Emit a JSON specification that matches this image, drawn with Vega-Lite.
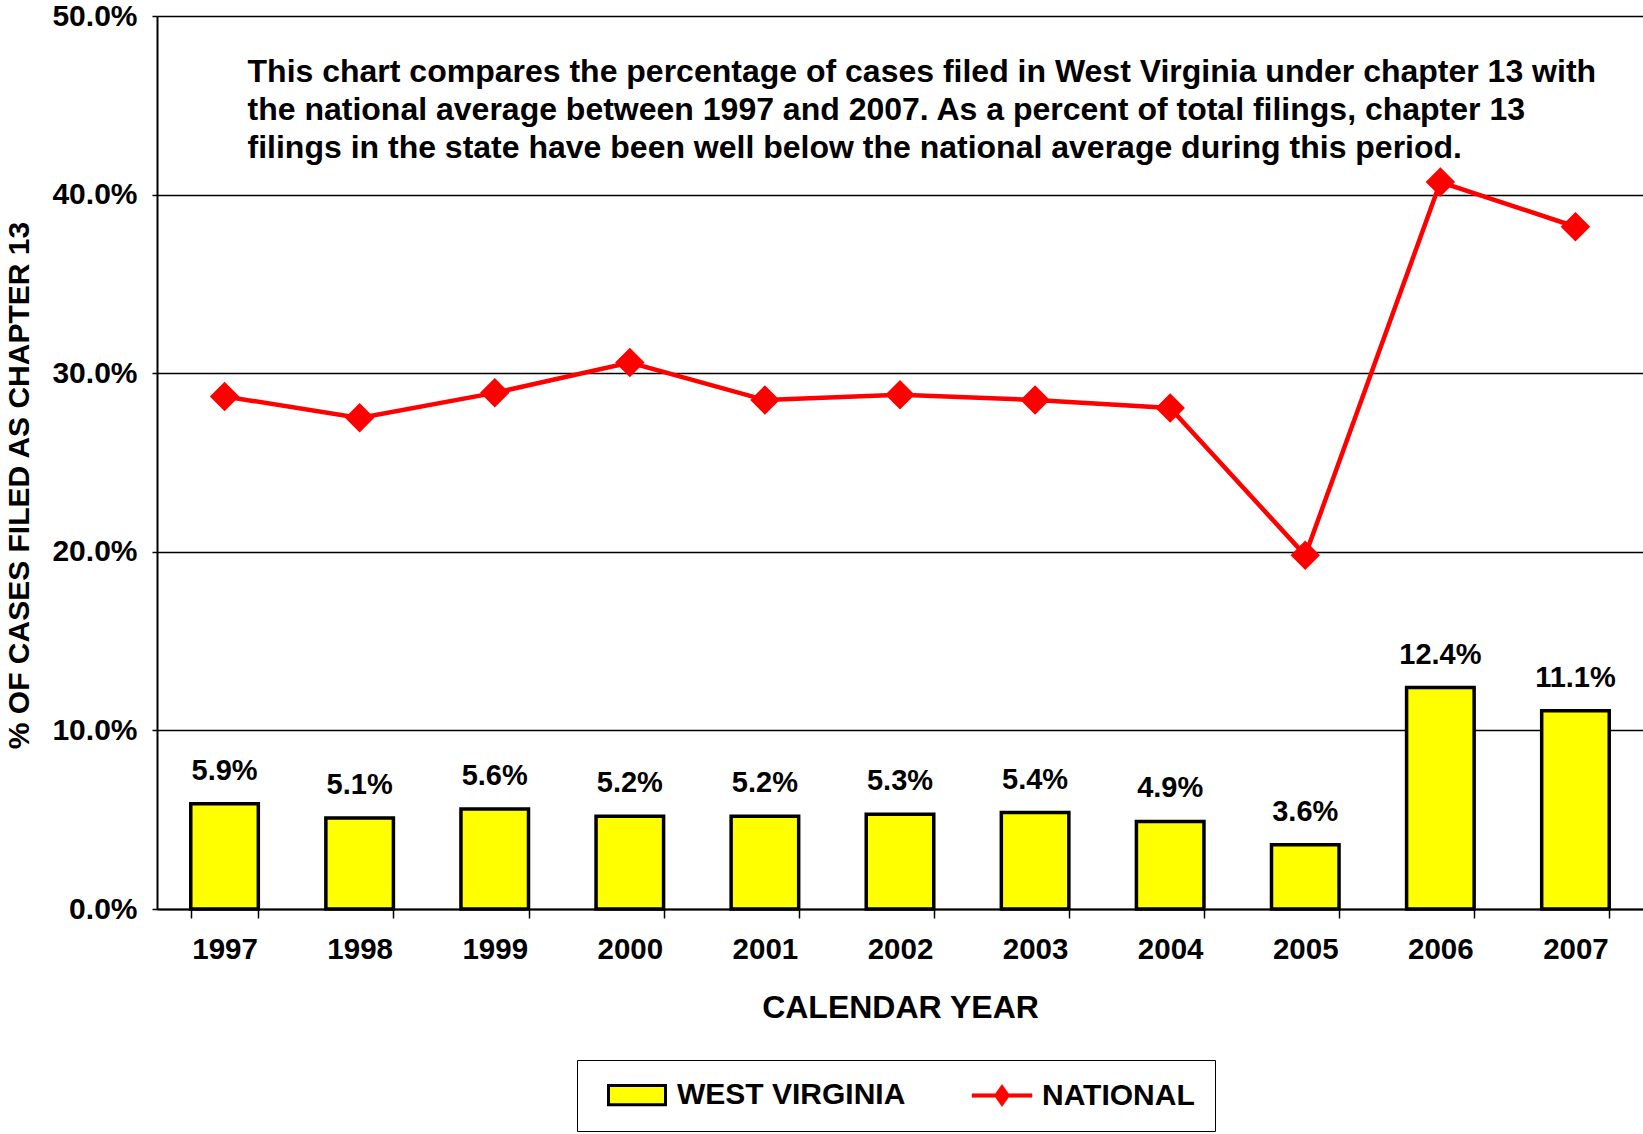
{
  "$schema": "https://vega.github.io/schema/vega-lite/v6.json",
  "width": 1486,
  "height": 893,
  "autosize": {"type": "none"},
  "padding": {"left": 157, "top": 16, "right": 0, "bottom": 225},
  "background": "white",
  "config": {
    "view": {"stroke": null},
    "font": "Liberation Sans",
    "text": {"font": "Liberation Sans"}
  },
  "data": {
    "values": [
      {"year": "1997", "series": "WEST VIRGINIA", "value": 0.059},
      {"year": "1998", "series": "WEST VIRGINIA", "value": 0.051},
      {"year": "1999", "series": "WEST VIRGINIA", "value": 0.056},
      {"year": "2000", "series": "WEST VIRGINIA", "value": 0.052},
      {"year": "2001", "series": "WEST VIRGINIA", "value": 0.052},
      {"year": "2002", "series": "WEST VIRGINIA", "value": 0.053},
      {"year": "2003", "series": "WEST VIRGINIA", "value": 0.054},
      {"year": "2004", "series": "WEST VIRGINIA", "value": 0.049},
      {"year": "2005", "series": "WEST VIRGINIA", "value": 0.036},
      {"year": "2006", "series": "WEST VIRGINIA", "value": 0.124},
      {"year": "2007", "series": "WEST VIRGINIA", "value": 0.111},
      {"year": "1997", "series": "NATIONAL", "value": 0.287},
      {"year": "1998", "series": "NATIONAL", "value": 0.275},
      {"year": "1999", "series": "NATIONAL", "value": 0.289},
      {"year": "2000", "series": "NATIONAL", "value": 0.306},
      {"year": "2001", "series": "NATIONAL", "value": 0.285},
      {"year": "2002", "series": "NATIONAL", "value": 0.288},
      {"year": "2003", "series": "NATIONAL", "value": 0.285},
      {"year": "2004", "series": "NATIONAL", "value": 0.2805},
      {"year": "2005", "series": "NATIONAL", "value": 0.198},
      {"year": "2006", "series": "NATIONAL", "value": 0.407},
      {"year": "2007", "series": "NATIONAL", "value": 0.382}
    ]
  },
  "encoding": {
    "x": {
      "field": "year",
      "type": "ordinal",
      "scale": {"paddingInner": 0.5, "paddingOuter": 0.25},
      "axis": {
        "title": "CALENDAR YEAR",
        "titleFont": "Liberation Sans",
        "titleFontSize": 32,
        "titleFontWeight": "bold",
        "titleColor": "black",
        "titleY": 98,
        "titleBaseline": "middle",
        "labelAngle": 0,
        "labelFont": "Liberation Sans",
        "labelFontSize": 29.5,
        "labelFontWeight": "bold",
        "labelColor": "black",
        "labelPadding": 17,
        "tickBand": "extent",
        "tickSize": 9,
        "tickColor": "black",
        "tickWidth": 1.5,
        "domainColor": "black",
        "domainWidth": 2,
        "grid": false
      }
    },
    "y": {
      "field": "value",
      "type": "quantitative",
      "scale": {"domain": [0, 0.5], "nice": false},
      "axis": {
        "values": [0, 0.1, 0.2, 0.3, 0.4, 0.5],
        "format": ".1%",
        "title": "% OF CASES FILED AS CHAPTER 13",
        "titleFont": "Liberation Sans",
        "titleFontSize": 30,
        "titleFontWeight": "bold",
        "titleColor": "black",
        "titleAngle": 270,
        "titleX": -138,
        "titleY": 469,
        "titleAlign": "center",
        "titleBaseline": "middle",
        "labelFont": "Liberation Sans",
        "labelFontSize": 30,
        "labelFontWeight": "bold",
        "labelColor": "black",
        "labelPadding": 15,
        "tickSize": 5,
        "tickColor": "black",
        "tickWidth": 1.5,
        "domainColor": "black",
        "domainWidth": 2,
        "grid": true,
        "gridColor": "black",
        "gridWidth": 1.3
      }
    }
  },
  "layer": [
    {
      "transform": [{"filter": "datum.series === 'WEST VIRGINIA'"}],
      "mark": {"type": "bar", "stroke": "black", "strokeWidth": 3.5},
      "encoding": {
        "color": {
          "field": "series",
          "type": "nominal",
          "scale": {"domain": ["WEST VIRGINIA", "NATIONAL"], "range": ["#FFFF00", "#FF0000"]},
          "legend": {
            "title": null,
            "orient": "none",
            "legendX": 420,
            "legendY": 1044,
            "direction": "horizontal",
            "columns": 2,
            "columnPadding": 56,
            "strokeColor": "black",
            "padding": 20,
            "labelFont": "Liberation Sans",
            "labelFontSize": 30,
            "labelFontWeight": "bold",
            "labelColor": "black",
            "labelOffset": 25,
            "labelLimit": 400,
            "symbolOffset": 25,
            "symbolSize": 3600,
            "symbolOpacity": 1,
            "symbolType": {"expr": "datum.value === 'NATIONAL' ? 'M-1,-0.06L-0.22,-0.06L0,-0.37L0.22,-0.06L1,-0.06L1,0.06L0.22,0.06L0,0.37L-0.22,0.06L-1,0.06Z' : 'M-0.95,-0.32H0.95V0.32H-0.95Z'"},
            "symbolStrokeColor": {"expr": "datum.value === 'NATIONAL' ? '#FF0000' : 'black'"},
            "symbolStrokeWidth": {"expr": "datum.value === 'NATIONAL' ? 0.5 : 3"}
          }
        }
      }
    },
    {
      "transform": [{"filter": "datum.series === 'NATIONAL'"}],
      "mark": {
        "type": "line",
        "color": "#FF0000",
        "strokeWidth": 4.5,
        "point": {"shape": "diamond", "size": 870, "filled": true, "opacity": 1, "color": "#FF0000"}
      },
      "encoding": {}
    },
    {
      "transform": [{"filter": "datum.series === 'WEST VIRGINIA'"}],
      "mark": {
        "type": "text",
        "baseline": "alphabetic",
        "dy": -24,
        "fontSize": 29,
        "fontWeight": "bold",
        "color": "black"
      },
      "encoding": {
        "text": {"field": "value", "type": "quantitative", "format": ".1%"}
      }
    },
    {
      "transform": [{"filter": "datum.series === 'NATIONAL' && datum.year === '1997'"}],
      "mark": {
        "type": "text",
        "text": [
          "This chart compares the percentage of cases filed in West Virginia under chapter 13 with",
          "the national average between 1997 and 2007.  As a percent of total filings, chapter 13",
          "filings in the state have been well below the national average during this period."
        ],
        "align": "left",
        "baseline": "alphabetic",
        "dx": 23,
        "fontSize": 32,
        "fontWeight": "bold",
        "lineHeight": 38,
        "color": "black"
      },
      "encoding": {
        "y": {"datum": 0.463, "type": "quantitative"}
      }
    }
  ]
}
